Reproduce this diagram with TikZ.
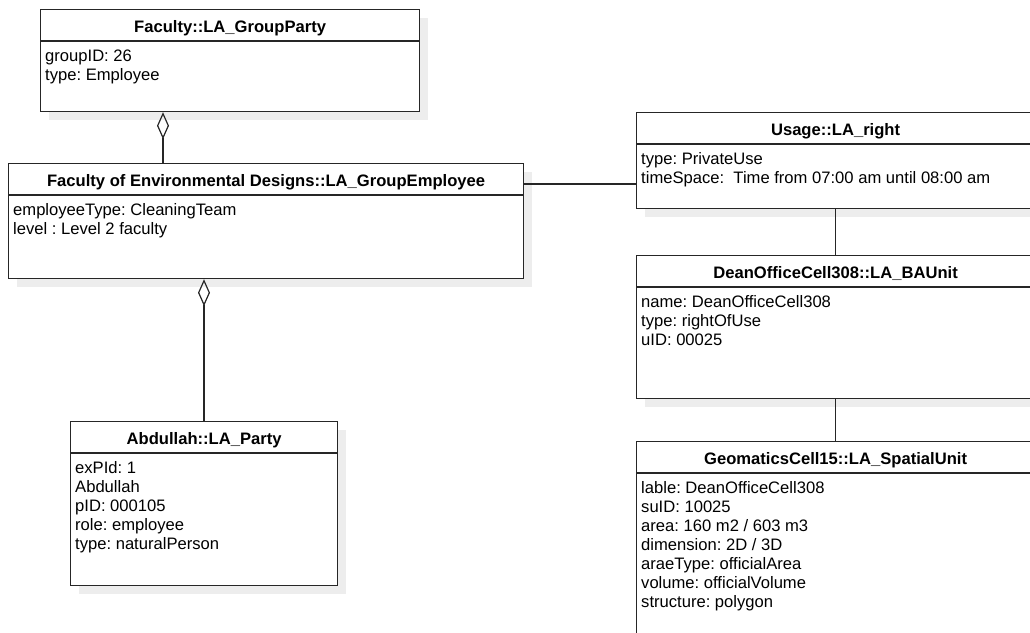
\documentclass[tikz,border=0pt]{standalone}
\usepackage{fontspec}
\setmainfont{Liberation Sans}
\usetikzlibrary{arrows.meta,shadows,calc}
\frenchspacing
\newcommand\umlcls[7]{%
  \node[clsbox, minimum width=#4pt, minimum height=#5pt] (#1) at (#2,#3) {};
  \draw[clsline] ([yshift=-32pt]#1.north west) -- ([yshift=-32pt]#1.north east);
  \node[clstitle] (#1-t) at ([yshift=-23pt]#1.north) {#6};
  \node[clsattr] (#1-a) at ([xshift=5pt,yshift=-38.7pt]#1.north west) {\strut #7};
}
\begin{document}
\begin{tikzpicture}[x=1pt,y=-1pt,
  clsbox/.style={draw=black!85, line width=1.2pt, fill=white, inner sep=0pt, anchor=north west,
    drop shadow={shadow xshift=8.5pt, shadow yshift=-8.5pt, fill=black!7, opacity=1}},
  clsline/.style={draw=black!85, line width=1.2pt},
  clstitle/.style={anchor=base, inner sep=0pt, font=\fontsize{16.6}{19}\selectfont\bfseries\frenchspacing},
  clsattr/.style={anchor=north west, inner sep=0pt, align=left, font=\fontsize{16.6}{19}\selectfont\frenchspacing},
  conn/.style={draw=black!85, line width=1.2pt},
  agg/.style={conn, {Diamond[open,length=27pt,width=12pt]}-}]
\useasboundingbox (0,0) rectangle (1030,632);
\clip (0,0) rectangle (1030,632);

\umlcls{gp}{40}{9}{379}{102}{Faculty::LA\_GroupParty}{groupID: 26\\type: Employee}
\umlcls{emp}{8}{163}{515}{115}{Faculty of Environmental Designs::LA\_GroupEmployee}{employeeType: CleaningTeam\\level : Level 2 faculty}
\umlcls{abd}{70}{421}{267}{164}{Abdullah::LA\_Party}{exPId: 1\\Abdullah\\pID: 000105\\role: employee\\type: naturalPerson}
\umlcls{us}{636}{112}{398}{96}{Usage::LA\_right}{type: PrivateUse\\timeSpace:~ Time from 07:00 am until 08:00 am}
\umlcls{ba}{636}{255}{398}{143}{DeanOfficeCell308::LA\_BAUnit}{name: DeanOfficeCell308\\type: rightOfUse\\uID: 00025}
\umlcls{sp}{636}{441}{398}{210}{GeomaticsCell15::LA\_SpatialUnit}{lable: DeanOfficeCell308\\suID: 10025\\area: 160 m2 / 603 m3\\dimension: 2D / 3D\\araeType: officialArea\\volume: officialVolume\\structure: polygon}

\draw[agg] ([xshift=123pt]gp.south west) -- ([xshift=123pt]gp.south west |- emp.north);
\draw[agg] ([xshift=196pt]emp.south west) -- ([xshift=196pt]emp.south west |- abd.north);
\draw[conn] ([yshift=-21pt]emp.north east) -- ([yshift=-21pt]emp.north east -| us.west);
\draw[conn] (us.south) -- (ba.north);
\draw[conn] (ba.south) -- (sp.north);
\end{tikzpicture}
\end{document}
